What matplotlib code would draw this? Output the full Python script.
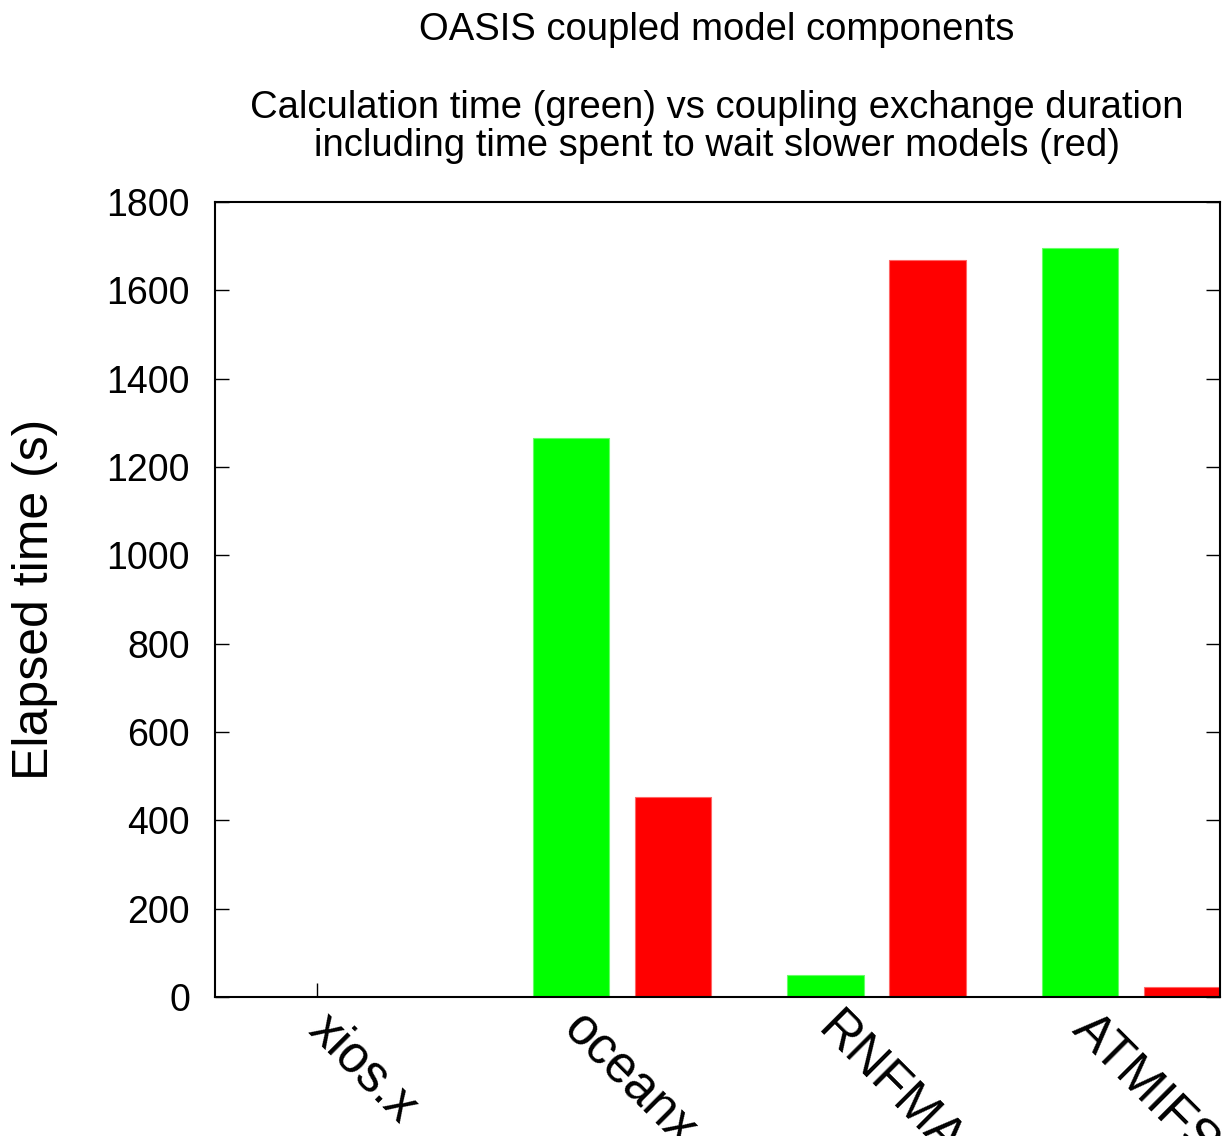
import numpy as np
import matplotlib
matplotlib.use('Agg')
import matplotlib.pyplot as plt
import matplotlib.transforms as mtransforms

plt.rcParams['font.family'] = ['Liberation Sans', 'DejaVu Sans']

#### data
models = ['xios.x', 'oceanx', 'RNFMA', 'ATMIFS']
calcTime = [0, 1265, 49, 1695]      # green
couplingTime = [0, 452, 1668, 22]   # red

yTicks = [0, 200, 400, 600, 800, 1000, 1200, 1400, 1600, 1800]

fig = plt.figure(figsize=(12.28, 11.36), dpi=100)
ax = fig.add_axes([0.1751, 0.1224, 0.8184, 0.6998])

x = np.arange(len(models))
ax.bar(x, calcTime, width=0.3, color='#00ff00', edgecolor='#66ff66', linewidth=0.8, zorder=2)
ax.bar(x + 0.4, couplingTime, width=0.3, color='#ff0000', edgecolor='#ff6666', linewidth=0.8, zorder=2)

ax.set_xlim(-0.4, 3.55)
ax.set_ylim(0, 1800)
ax.set_yticks(yTicks)
ax.set_yticklabels([str(v) for v in yTicks], fontsize=27)
ax.set_xticks(x)
ax.set_xticklabels(models, fontsize=37, rotation=-45, ha='left', va='center',
                   rotation_mode='anchor')
# shift rotated labels slightly left, like gnuplot does
shift = mtransforms.ScaledTranslation(-12 / 100, 0, fig.dpi_scale_trans)
for lab in ax.get_xticklabels():
    lab.set_transform(lab.get_transform() + shift)

ax.tick_params(axis='y', direction='in', length=10, width=1, right=True, pad=18)
ax.tick_params(axis='x', direction='in', length=10, width=1, top=False, pad=18)
for sp in ax.spines.values():
    sp.set_linewidth(1.5)
    sp.set_zorder(3)

ax.set_ylabel('Elapsed time (s)', fontsize=36, va='center')
ax.yaxis.set_label_coords(-0.179, 0.5)

## titles
fig.text(0.584, 1 - 30 / 1136, 'OASIS coupled model components', fontsize=27.5,
         ha='center', va='center')
fig.text(0.584, 1 - 127 / 1136,
         'Calculation time (green) vs coupling exchange duration\n'
         'including time spent to wait slower models (red)',
         fontsize=27.5, ha='center', va='center', linespacing=1.04)

fig.savefig('out.png', dpi=100)
